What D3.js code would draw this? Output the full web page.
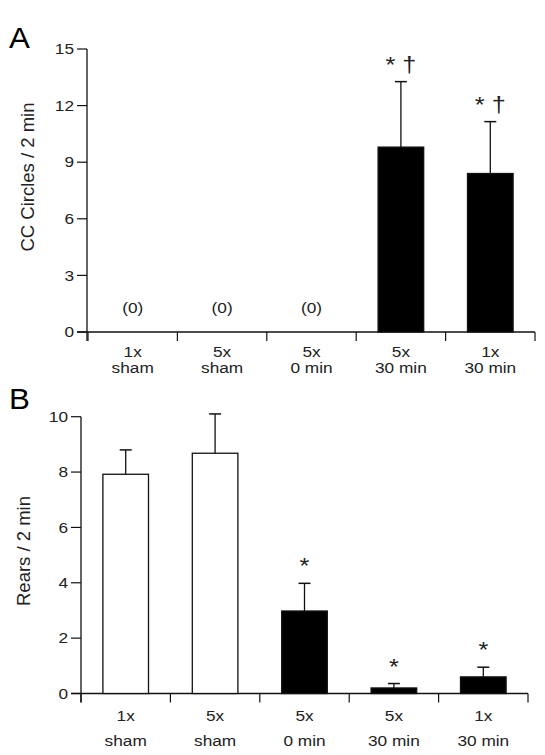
<!DOCTYPE html>
<html><head><meta charset="utf-8">
<script src="https://cdn.jsdelivr.net/npm/d3@7"></script>
<style>body{margin:0;background:#fff}text{font-family:"Liberation Sans",Arial,Helvetica,sans-serif;fill:#222}</style>
</head><body><svg id="c" width="545" height="755"></svg>
<script>
const categories = ["1x|sham", "5x|sham", "5x|0 min", "5x|30 min", "1x|30 min"];
const circlesMean = [0, 0, 0, 9.8, 8.4];
const circlesErr = [0, 0, 0, 13.27, 11.15];
const circlesFill = ["none", "none", "none", "black", "black"];
const circlesNote = ["(0)", "(0)", "(0)", "* †", "* †"];
const circlesTicks = [0, 3, 6, 9, 12, 15];
const rearsMean = [7.92, 8.68, 2.98, 0.2, 0.6];
const rearsErr = [8.8, 10.1, 3.98, 0.36, 0.95];
const rearsFill = ["white", "white", "black", "black", "black"];
const rearsNote = ["", "", "*", "*", "*"];
const rearsTicks = [0, 2, 4, 6, 8, 10];

const svg = d3.select("#c");
const SX = 1.15;

function txt(g, x, y, s, size, anchor, dy) {
  return g.append("text").attr("transform", `translate(${x},${y}) scale(${SX},1)`)
    .attr("dy", dy || 0).attr("text-anchor", anchor).attr("font-size", size).text(s);
}

function panel(o) {
  const g = svg.append("g");
  const x = d3.scaleBand().domain(categories).range([o.x0, o.x1]).paddingInner(0.49).paddingOuter(0.245);
  const y = d3.scaleLinear().domain([0, o.max]).range([o.yb, o.yt]);
  // y axis
  g.append("line").attr("x1", o.ax).attr("x2", o.ax).attr("y1", o.yt).attr("y2", o.yb + 9).attr("stroke", "#111").attr("stroke-width", 1.3);
  o.ticks.forEach(t => {
    g.append("line").attr("x1", o.ax - 10).attr("x2", o.ax).attr("y1", y(t)).attr("y2", y(t)).attr("stroke", "#111").attr("stroke-width", 1.2);
    txt(g, o.ax - 13, y(t), t, 15, "end", "0.35em");
  });
  // x axis
  g.append("line").attr("x1", o.ax - 10).attr("x2", o.x1).attr("y1", o.yb).attr("y2", o.yb).attr("stroke", "#111").attr("stroke-width", 1.3);
  const bounds = categories.map(c => x(c) - x.step() * x.paddingInner() / 2).concat([o.x1]);
  bounds[0] = o.x0;
  bounds.forEach(b => g.append("line").attr("x1", b).attr("x2", b).attr("y1", o.yb).attr("y2", o.yb + 9).attr("stroke", "#111").attr("stroke-width", 1.2));
  categories.forEach(c => {
    const [a, b] = c.split("|");
    const cx = x(c) + x.bandwidth() / 2;
    txt(g, cx, o.yb + o.lab1, a, 15, "middle");
    txt(g, cx, o.yb + o.lab2, b, 15, "middle");
  });
  // error bars
  categories.forEach((c, i) => {
    if (o.err[i] <= o.mean[i]) return;
    const cx = x(c) + x.bandwidth() / 2;
    g.append("line").attr("x1", cx).attr("x2", cx).attr("y1", y(o.mean[i])).attr("y2", y(o.err[i])).attr("stroke", "#111").attr("stroke-width", 1.3);
    g.append("line").attr("x1", cx - 6).attr("x2", cx + 6).attr("y1", y(o.err[i])).attr("y2", y(o.err[i])).attr("stroke", "#111").attr("stroke-width", 1.5);
  });
  // bars
  categories.forEach((c, i) => {
    if (o.fill[i] === "none") return;
    g.append("rect").attr("x", x(c)).attr("width", x.bandwidth())
      .attr("y", y(o.mean[i])).attr("height", y(0) - y(o.mean[i]))
      .attr("fill", o.fill[i]).attr("stroke", "#111").attr("stroke-width", 1.3);
  });
  // notes
  categories.forEach((c, i) => {
    if (!o.note[i]) return;
    const cx = x(c) + x.bandwidth() / 2;
    const isZero = o.note[i] === "(0)";
    const yy = isZero ? y(0) - 19 : y(o.err[i]) - o.noteGap;
    txt(g, cx, yy, o.note[i], isZero ? 15 : 22, "middle");
  });
  // title
  g.append("text").attr("transform", `translate(${o.tx},${o.ty}) rotate(-90)`).attr("text-anchor", "middle").attr("font-size", 18.5).text(o.title);
  g.append("text").attr("transform", `translate(9,${o.ly}) scale(1.08,1)`).attr("font-size", 29).style("fill", "#000").text(o.letter);
}

panel({x0: 88, x1: 535, ax: 87, yb: 332, yt: 49, max: 15, ticks: circlesTicks, mean: circlesMean, err: circlesErr, fill: circlesFill, note: circlesNote, noteGap: 10, title: "CC Circles / 2 min", tx: 34, ty: 177, letter: "A", ly: 48, lab1: 25, lab2: 41});
panel({x0: 81, x1: 528, ax: 81, yb: 693.5, yt: 416.7, max: 10, ticks: rearsTicks, mean: rearsMean, err: rearsErr, fill: rearsFill, note: rearsNote, noteGap: 10, title: "Rears / 2 min", tx: 30, ty: 551, letter: "B", ly: 409, lab1: 27, lab2: 52});
</script></body></html>
